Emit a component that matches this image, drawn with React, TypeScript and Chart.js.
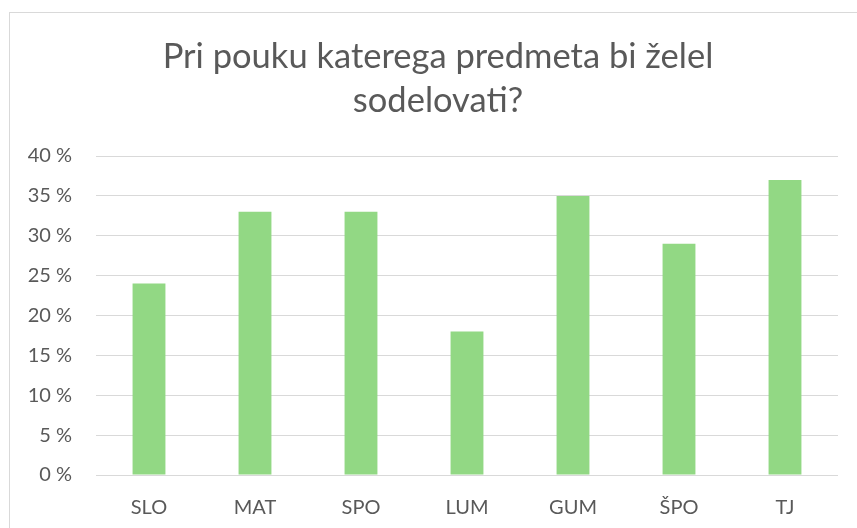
import React, { useEffect, useRef } from "react";
import { Chart, registerables } from "chart.js";

Chart.register(...registerables);

const titleLines = ["Pri pouku katerega predmeta bi želel", "sodelovati?"];
const categories = ["SLO", "MAT", "SPO", "LUM", "GUM", "ŠPO", "TJ"];
const values = [24, 33, 33, 18, 35, 29, 37];
const yMin = 0;
const yMax = 40;
const yStep = 5;

const FONT = "Lato";
const TEXT = "#595959";

const framePlugin = {
  id: "frame",
  beforeDraw(chart: any) {
    const ctx = chart.ctx;
    ctx.save();
    ctx.fillStyle = "#ffffff";
    ctx.fillRect(0, 0, chart.width, chart.height);
    ctx.strokeStyle = "#D9D9D9";
    ctx.lineWidth = 1;
    ctx.strokeRect(9.5, 12.5, chart.width, chart.height);
    ctx.fillStyle = TEXT;
    ctx.font = `34.5px ${FONT}`;
    ctx.textAlign = "center";
    ctx.textBaseline = "alphabetic";
    const cx = 438;
    ctx.fillText(titleLines[0], cx, 68);
    ctx.fillText(titleLines[1], cx, 112);
    ctx.restore();
  },
};

export default function App() {
  const ref = useRef<HTMLCanvasElement>(null);
  useEffect(() => {
    if (!ref.current) return;
    const chart = new Chart(ref.current, {
      type: "bar",
      data: {
        labels: categories,
        datasets: [
          {
            data: values,
            backgroundColor: "#92D884",
            categoryPercentage: 1,
            barPercentage: 0.31,
          },
        ],
      },
      options: {
        animation: false,
        responsive: false,
        maintainAspectRatio: false,
        layout: { padding: { left: 0, top: 156, right: 19, bottom: 0 } },
        plugins: { legend: { display: false }, tooltip: { enabled: false }, title: { display: false } },
        scales: {
          x: {
            grid: { display: false, drawTicks: false },
            border: { display: false },
            ticks: { color: TEXT, font: { family: FONT, size: 20 }, padding: 21 },
            afterFit: (s: any) => {
              s.height = 53;
            },
          },
          y: {
            min: yMin,
            max: yMax,
            ticks: {
              stepSize: yStep,
              color: TEXT,
              font: { family: FONT, size: 20 },
              padding: 24,
              callback: (v: any) => `${v} %`,
            },
            grid: { color: "#D9D9D9", lineWidth: 1, drawTicks: false },
            border: { display: false },
            afterFit: (s: any) => {
              s.width = 96;
            },
          },
        },
      },
      plugins: [framePlugin],
    });
    return () => chart.destroy();
  }, []);
  return (
    <div style={{ position: "absolute", left: 0, top: 0, width: 857, height: 528 }}>
      <canvas ref={ref} width={857} height={528} style={{ width: 857, height: 528, display: "block" }} />
    </div>
  );
}
